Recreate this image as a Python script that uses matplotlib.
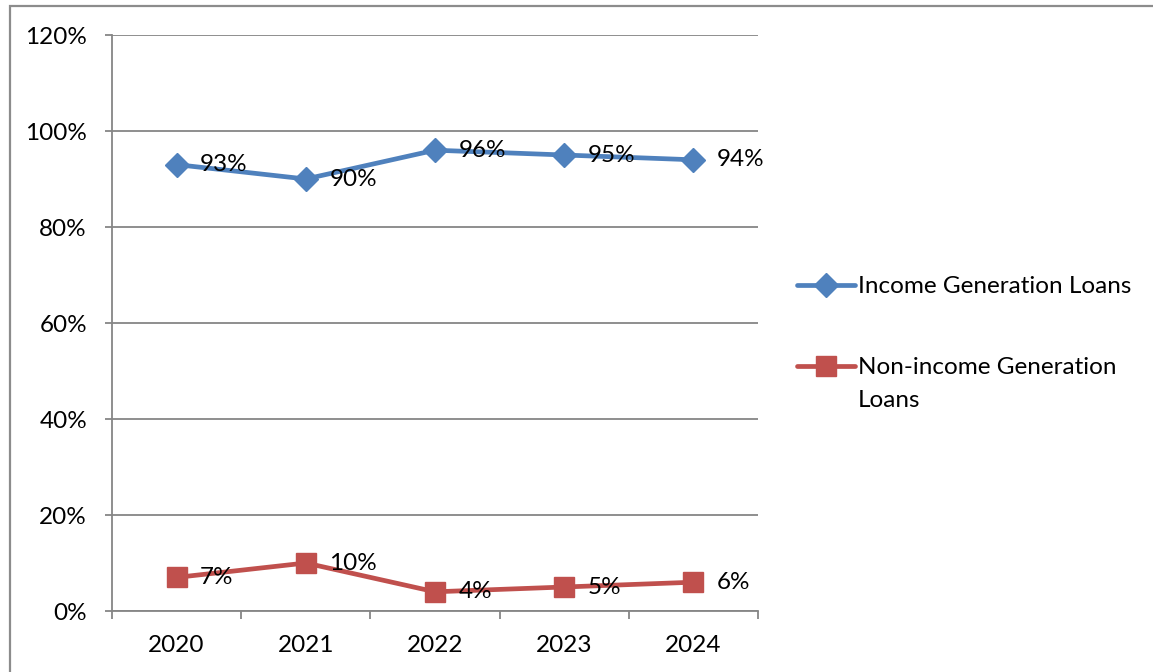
import matplotlib
matplotlib.use("Agg")
import matplotlib.pyplot as plt
from matplotlib.patches import Rectangle
from matplotlib.ticker import FixedLocator, PercentFormatter

years = ["2020", "2021", "2022", "2023", "2024"]
income_loans = [93, 90, 96, 95, 94]
non_income_loans = [7, 10, 4, 5, 6]

blue = "#4F81BD"
red = "#C0504D"
grid_gray = "#868686"
fs = 17.5

plt.rcParams["font.family"] = ["Lato", "DejaVu Sans"]
plt.rcParams["font.size"] = fs

fig = plt.figure(figsize=(11.53, 6.72), dpi=100)
ax = fig.add_axes([112 / 1153, 1 - 611 / 672, (758 - 112) / 1153, (611 - 35) / 672])

# chart frame, cut off on the right and bottom
fig.patches.append(Rectangle((10 / 1153, -0.2), 1.2, 1.2 - 6 / 672,
                             transform=fig.transFigure, fill=False,
                             edgecolor="#8c8c8c", linewidth=1.6))

x = list(range(len(years)))
ax.plot(x, income_loans, color=blue, linewidth=3.4, marker="D", markersize=12.5,
        label="Income Generation Loans", solid_capstyle="round")
ax.plot(x, non_income_loans, color=red, linewidth=3.4, marker="s", markersize=14.5,
        label="Non-income Generation", solid_capstyle="round")

for xi, v in zip(x, income_loans):
    ax.annotate(f"{v}%", (xi, v), xytext=(17, 0), textcoords="offset points",
                ha="left", va="center", fontsize=fs)
for xi, v in zip(x, non_income_loans):
    ax.annotate(f"{v}%", (xi, v), xytext=(17, 0), textcoords="offset points",
                ha="left", va="center", fontsize=fs)

ax.set_xlim(-0.5, len(years) - 0.5)
ax.set_ylim(0, 120)
ax.yaxis.set_major_locator(FixedLocator([0, 20, 40, 60, 80, 100, 120]))
ax.yaxis.set_major_formatter(PercentFormatter(decimals=0))
ax.set_xticks(x)
ax.set_xticklabels(years)
ax.set_xticks([i - 0.5 for i in range(len(years) + 1)], minor=True)

ax.grid(axis="y", color=grid_gray, linewidth=1.3)
ax.set_axisbelow(True)
for side in ["top", "right"]:
    ax.spines[side].set_visible(False)
for side in ["left", "bottom"]:
    ax.spines[side].set_color(grid_gray)
    ax.spines[side].set_linewidth(1.3)

ax.tick_params(axis="y", length=5, width=1.3, color=grid_gray, pad=13, labelsize=fs)
ax.tick_params(axis="x", which="major", length=0, pad=17, labelsize=fs)
ax.tick_params(axis="x", which="minor", length=6, width=1.3, color=grid_gray)

ax.legend(loc="upper left", bbox_to_anchor=(797 / 1153, 1 - 276 / 672),
          bbox_transform=fig.transFigure, frameon=False, fontsize=fs,
          handlelength=2.4, handletextpad=0.1, labelspacing=2.47,
          borderpad=0, borderaxespad=0)
# second line of the wrapped legend label
fig.text(858 / 1153, 1 - 407 / 672, "Loans", ha="left", va="baseline", fontsize=fs)

fig.savefig("out.png", dpi=100)
